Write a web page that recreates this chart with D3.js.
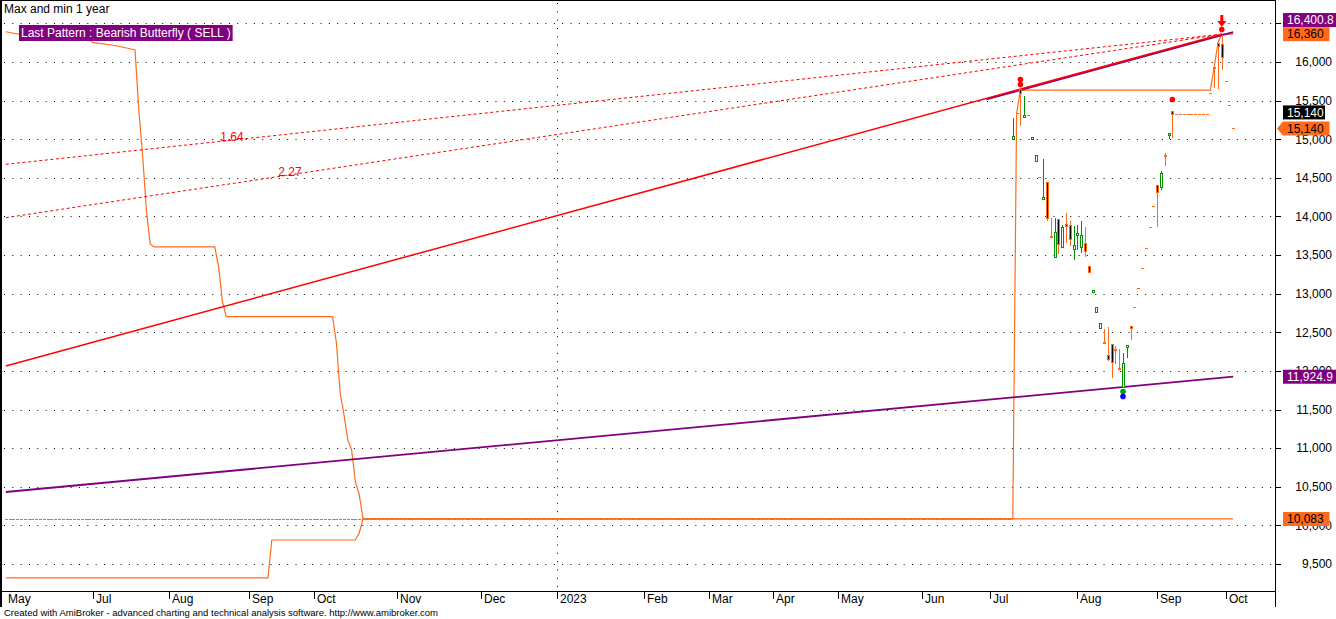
<!DOCTYPE html>
<html><head><meta charset="utf-8">
<script src="https://cdn.jsdelivr.net/npm/d3@7"></script>
<style>
body{margin:0;background:#fff}
svg{display:block;font-family:Arial,"Liberation Sans",sans-serif}
</style>
</head><body>
<svg id="c" width="1336" height="619"></svg>
<script>
// ---------------- data ----------------
const titleText = "Max and min 1 year";
const patternText = "Last Pattern : Bearish Butterfly ( SELL )";
const footerText = "Created with AmiBroker - advanced charting and technical analysis software. http://www.amibroker.com";

const priceTicks = [9500,10000,10500,11000,11500,12000,12500,13000,13500,14000,14500,15000,15500,16000,16500];
// labels printed on the right scale (16,500 is hidden behind the value tags in the reference)
const priceLabels = [9500,10000,10500,11000,11500,12000,12500,13000,13500,14000,14500,15000,15500,16000];

const monthLabels = ["May","Jul","Aug","Sep","Oct","Nov","Dec","2023","Feb","Mar","Apr","May","Jun","Jul","Aug","Sep","Oct"];
const monthBars   = [0,23,43,64,81,103,125,145,168,185,202,219,241,259,282,303,321];
const yearBar = 145;

// flat (no trading) bars before the first real candle
const flatFirstBar = 0, flatLastBar = 264, flatPrice = 10083;

// real candles start here (one value per bar)
const firstCandleBar = 265;
const opens  = [15003,15336,15650,15288,15314,15003,14722,14508,14222,14450,13747,13479,13963,13601,13906,13889,13575,13764,13609,13653,13359,13027,12767,12560,12379,12207,12345,12281,12044,11792,12310,12582,12828,13074,13330,13590,13862,14131,14407,14386,14796,15059,15366,15323,15323,15323,15323,15323,15323,15323,15323,15323,15600,15935,16250,16229,15751,15437,15140];
const highs  = [15292,15336,15663,15573,15314,15042,14796,14508,14751,14450,13997,13997,13963,13906,14062,13954,13889,13906,13954,13876,13359,13049,12824,12617,12552,12582,12345,12336,12293,12241,12336,12582,12828,13074,13330,13590,13862,14131,14407,14602,14839,15081,15366,15323,15323,15323,15323,15323,15323,15323,15323,15323,15600,15935,16250,16360,15751,15437,15140];
const lows   = [15003,15336,15184,15288,15314,15003,14722,14508,14222,13960,13730,13479,13531,13601,13673,13630,13445,13579,13544,13488,13285,13027,12767,12560,12370,12142,11925,12108,12029,11792,12177,12413,12828,13074,13330,13590,13862,14131,13877,14352,14666,15012,15025,15323,15323,15323,15323,15323,15323,15323,15323,15323,15600,15672,15660,15905,15751,15437,15140];
const closes = [15042,15336,15599,15314,15314,15029,14796,14508,14256,13976,13730,13803,13640,13860,13880,13704,13630,13790,13760,13553,13285,13049,12824,12617,12370,12150,12117,12268,12029,12099,12336,12560,12828,13074,13330,13590,13862,14131,14321,14559,14783,15081,15323,15323,15323,15323,15323,15323,15323,15323,15323,15323,15600,15916,16211,16061,15751,15437,15140];

// rolling 1-year max / min lines (vertices)
const maxBars   = [0,3,22,23,28,33,34,35,36,37,38,39,55,56,57,58,86,87,88,89,90,91,92,93,94,265,266,267,317,318,319,320,323];
const maxValues = [16392,16363,16285,16250,16220,16168,16155,15378,14796,14084,13644,13605,13605,13350,12900,12702,12702,12362,11714,11430,11106,10976,10562,10400,10083,10083,15336,15637,15637,15935,16250,16360,16360];
const minBars   = [0,69,70,92,93,94,323];
const minValues = [9320,9320,9811,9811,9902,10083,10083];

// pattern lines
const xdBars = [0,320],  xdValues = [12064,16360];          // red solid
const fibBars = [0,320];
const fib164Values = [14675,16360];
const fib227Values = [13984,16360];
const fibLabels = ["1.64","2.27"];
const fibLabelBars = [59.5,74.8];
const upperBars = [258,323], upperValues = [15527.7,16400.8]; // purple resistance
const lowerBars = [0,323],   lowerValues = [10432,11924.9];   // purple support

// signal markers
const dotBars   = [267,267,307,294,294,320];
const dotValues = [15774,15709,15514,11734,11669,16421];
const dotColors = ["#ff0000","#ff0000","#ff0000","#00a000","#0000ff","#ff0000"];
const arrowBar = 320, arrowTipValue = 16453;

// right-hand value labels
const tagTexts  = ["16,400.8","16,360","15,140","15,140","11,924.9","10,083"];
const tagValues = [16400.8,16360,15140,15140,11924.9,10083];
const tagShift  = [-11,0,-16,0,0,0];
const tagFill   = ["#800080","#ff6b1a","#000000","#ff6b1a","#800080","#ff6b1a"];
const tagText   = ["#ffffff","#000000","#ffffff","#000000","#ffffff","#000000"];
const tagWidth  = [53,46.5,42,46.5,53,46.5];
const tagArrow  = [false,false,false,true,false,false];

// ---------------- drawing ----------------
const W = 1336, H = 619, plotR = 1275, plotB = 591;
const ORANGE = "#ff6b1a", GREEN = "#009000", RED = "#ff0000", PURPLE = "#800080";
const svg = d3.select("#c");
svg.append("rect").attr("width",W).attr("height",H).attr("fill","#fff");

const x = d3.scaleLinear().domain([0,321]).range([5.8,1225.6]);
const y = d3.scaleLinear().domain([9500,16000]).range([564,62]);
const px = v => Math.round(x(v)) + 0.5;
const py = v => Math.round(y(v)) + 0.5;

svg.append("defs").append("clipPath").attr("id","plot")
  .append("rect").attr("x",0).attr("y",0).attr("width",plotR).attr("height",plotB);
const g = svg.append("g").attr("clip-path","url(#plot)");

// grid
g.selectAll("line.hg").data(priceTicks).join("line")
  .attr("x1",4).attr("x2",plotR).attr("y1",d=>py(d)).attr("y2",d=>py(d))
  .attr("stroke","#000").attr("stroke-width",1).attr("stroke-dasharray","1,7.33");
g.append("line").attr("x1",px(yearBar)).attr("x2",px(yearBar)).attr("y1",3).attr("y2",plotB)
  .attr("stroke","#000").attr("stroke-dasharray","1,7.33");

const line = d3.line().x(d=>x(d[0])).y(d=>y(d[1]));
const zip = (a,b) => a.map((v,i)=>[v,b[i]]);

// flat dojis
const flatBars = d3.range(flatFirstBar, flatLastBar+1);
g.selectAll("line.flat").data(flatBars).join("line")
  .attr("x1",d=>px(d)-1.5).attr("x2",d=>px(d)+1.5).attr("y1",py(flatPrice)).attr("y2",py(flatPrice))
  .attr("stroke",ORANGE).attr("stroke-width",1);

// max/min lines
g.append("path").attr("d",line(zip(minBars,minValues))).attr("fill","none").attr("stroke",ORANGE).attr("stroke-width",1.2);
g.append("path").attr("d",line(zip(maxBars,maxValues))).attr("fill","none").attr("stroke",ORANGE).attr("stroke-width",1.2);

// lower purple
g.append("path").attr("d",line(zip(lowerBars,lowerValues))).attr("fill","none").attr("stroke",PURPLE).attr("stroke-width",1.8);
// upper purple (drawn slightly under the red X-D line)
g.append("path").attr("d",line(zip(upperBars,upperValues))).attr("transform","translate(0,1)")
  .attr("fill","none").attr("stroke",PURPLE).attr("stroke-width",1.8);
// fib dashed lines
[fib164Values,fib227Values].forEach(vals=>{
  g.append("path").attr("d",line(zip(fibBars,vals))).attr("fill","none")
    .attr("stroke",RED).attr("stroke-width",1).attr("stroke-dasharray","3,2.6");
});
// X-D solid red
g.append("path").attr("d",line(zip(xdBars,xdValues))).attr("fill","none").attr("stroke",RED).attr("stroke-width",1.5);

// fib labels
[fib164Values,fib227Values].forEach((vals,i)=>{
  const b = fibLabelBars[i];
  const v = vals[0] + (vals[1]-vals[0])*(b-fibBars[0])/(fibBars[1]-fibBars[0]);
  g.append("text").attr("x",x(b)).attr("y",y(v)+1).attr("text-anchor","middle")
    .attr("font-size",12).attr("fill",RED).text(fibLabels[i]);
});

// candles
const candles = opens.map((o,k)=>({bar:firstCandleBar+k,o,h:highs[k],l:lows[k],c:closes[k]}));
const cg = g.append("g").attr("shape-rendering","crispEdges");
candles.forEach(d=>{
  const cx = px(d.bar);
  const col = d.c > d.o ? GREEN : ORANGE;
  if (d.h > d.l) cg.append("line").attr("x1",cx).attr("x2",cx).attr("y1",py(d.h)).attr("y2",py(d.l)).attr("stroke",col);
  if (d.o === d.c) {
    cg.append("line").attr("x1",cx-1.5).attr("x2",cx+1.5).attr("y1",py(d.c)).attr("y2",py(d.c)).attr("stroke",ORANGE);
  } else {
    const top = Math.min(py(d.o),py(d.c)), bot = Math.max(py(d.o),py(d.c));
    cg.append("rect").attr("x",cx-1).attr("y",top).attr("width",2).attr("height",Math.max(bot-top,1))
      .attr("fill", d.c > d.o ? "#fff" : "#000").attr("stroke",col).attr("stroke-width",1);
  }
});

// markers
dotBars.forEach((b,i)=>{
  g.append("circle").attr("cx",x(b)).attr("cy",y(dotValues[i])).attr("r",2.8).attr("fill",dotColors[i]);
});
{
  const ax = x(arrowBar), tip = y(arrowTipValue);
  g.append("rect").attr("x",ax-1.5).attr("y",tip-12).attr("width",3).attr("height",7).attr("fill",RED);
  g.append("path").attr("d",`M${ax-4.5},${tip-6}L${ax+4.5},${tip-6}L${ax},${tip}Z`).attr("fill",RED);
}

// frame
const frame = svg.append("g").attr("stroke","#000").attr("stroke-width",1).attr("shape-rendering","crispEdges");
frame.append("line").attr("x1",0).attr("x2",plotR+1).attr("y1",0.5).attr("y2",0.5);
frame.append("line").attr("x1",0.5).attr("x2",0.5).attr("y1",0).attr("y2",607);
frame.append("line").attr("x1",1.5).attr("x2",1.5).attr("y1",0).attr("y2",607);
frame.append("line").attr("x1",0).attr("x2",plotR+1).attr("y1",plotB+0.5).attr("y2",plotB+0.5);
frame.append("line").attr("x1",plotR+0.5).attr("x2",plotR+0.5).attr("y1",0).attr("y2",607);

// x axis
monthBars.forEach((b,i)=>{
  const tx = px(b);
  if (i>0) frame.append("line").attr("x1",tx).attr("x2",tx).attr("y1",plotB+1).attr("y2",plotB+8);
  svg.append("text").attr("x", i>0 ? tx+2.5 : 8).attr("y",602.5).attr("font-size",12).attr("fill","#000").text(monthLabels[i]);
});

// y axis
priceTicks.forEach(t=>{
  frame.append("line").attr("x1",plotR).attr("x2",plotR+6).attr("y1",py(t)).attr("y2",py(t));
});
priceLabels.forEach(t=>{
  svg.append("text").attr("x",1332).attr("y",y(t)+4.3).attr("text-anchor","end").attr("font-size",12)
    .attr("fill","#000").text(d3.format(",")(t));
});

// value tags
tagTexts.forEach((t,i)=>{
  const cy = y(tagValues[i]) + tagShift[i];
  const x0 = 1283, top = cy-7, bot = cy+7, x1 = x0 + tagWidth[i];
  if (tagArrow[i]) {
    svg.append("path").attr("d",`M1277,${cy}L${x0},${top}L${x1},${top}L${x1},${bot}L${x0},${bot}Z`).attr("fill",tagFill[i]);
  } else {
    svg.append("rect").attr("x",x0).attr("y",top).attr("width",tagWidth[i]).attr("height",14).attr("fill",tagFill[i]);
  }
  svg.append("text").attr("x",x0+4).attr("y",cy+4.3).attr("font-size",12).attr("fill",tagText[i]).text(t);
});

// title, pattern label, footer
svg.append("text").attr("x",4).attr("y",12.5).attr("font-size",12).attr("fill","#000").text(titleText);
const pl = svg.append("g");
const pr = pl.append("rect").attr("x",19).attr("y",25).attr("height",16).attr("fill",PURPLE);
const ptxt = pl.append("text").attr("x",21).attr("y",37.3).attr("font-size",12).attr("fill","#fff").text(patternText);
pr.attr("width", ptxt.node().getComputedTextLength()+4);
svg.append("text").attr("x",4).attr("y",616).attr("font-size",9.5).attr("fill","#000").text(footerText);
</script>
</body></html>
